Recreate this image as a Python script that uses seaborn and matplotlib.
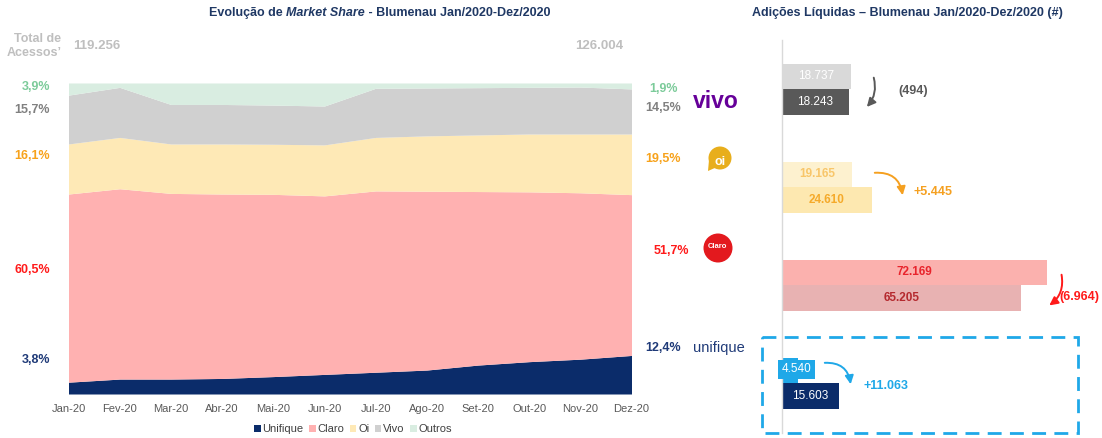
import numpy as np
import pandas as pd
import matplotlib
matplotlib.use("Agg")
from matplotlib import pyplot as plt
from matplotlib.patches import Rectangle, Circle, Polygon
import seaborn as sns

# Market share (%) por mes - Blumenau 2020
meses = ["Jan-20", "Fev-20", "Mar-20", "Abr-20", "Mai-20", "Jun-20",
         "Jul-20", "Ago-20", "Set-20", "Out-20", "Nov-20", "Dez-20"]
share_unifique = [3.8, 4.8, 4.8, 5.0, 5.6, 6.3, 7.0, 7.7, 9.3, 10.4, 11.2, 12.4]
share_claro = [60.5, 61.2, 59.7, 59.3, 58.6, 57.4, 58.3, 57.5, 55.8, 54.6, 53.5, 51.7]
share_oi = [16.1, 16.5, 15.9, 16.1, 16.1, 16.4, 17.2, 17.8, 18.2, 18.6, 18.9, 19.5]
share_vivo = [15.7, 16.1, 12.7, 12.7, 12.6, 12.5, 15.8, 15.4, 15.2, 15.0, 15.1, 14.5]
share_outros = [3.9, 1.4, 6.9, 6.9, 7.1, 7.4, 1.7, 1.6, 1.5, 1.4, 1.3, 1.9]
total_acessos = [119256, 126004]  # Jan/2020, Dez/2020

# Adicoes liquidas
operadoras = ["Vivo", "Oi", "Claro", "Unifique"]
acessos_jan = [18737, 19165, 72169, 4540]
acessos_dez = [18243, 24610, 65205, 15603]


def br(v):
    return f"{v:,}".replace(",", ".")


def pct(v):
    return f"{v:.1f}".replace(".", ",") + "%"


def delta_txt(d):
    return "(" + br(abs(d)) + ")" if d < 0 else "+" + br(d)


sns.set_style("white")
plt.rcParams["font.family"] = ["Liberation Sans", "DejaVu Sans"]

W, H = 1102, 438
fig = plt.figure(figsize=(W / 100, H / 100), dpi=100)


def box(x0, y0, x1, y1):
    return [x0 / W, 1 - y1 / H, (x1 - x0) / W, (y1 - y0) / H]


NAVY = "#1f3864"
GREY_T = "#bfbfbf"

# ---------------- left: stacked area ----------------
ax = fig.add_axes(box(68.5, 83, 631.5, 394))
x = np.arange(len(meses))
area_colors = ["#0b2c6a", "#ffb1b1", "#fee9b6", "#d0d0d0", "#d9ede1"]
ax.stackplot(x, share_unifique, share_claro, share_oi, share_vivo, share_outros,
             colors=area_colors, labels=["Unifique", "Claro", "Oi", "Vivo", "Outros"],
             linewidth=0)
ax.set_xlim(0, 11)
ax.set_ylim(0, 100)
ax.set_xticks(x, meses, fontsize=8, color="#595959")
ax.tick_params(axis="x", length=0, pad=7)
ax.set_yticks([])
sns.despine(ax=ax, left=True, bottom=True)
ax.legend(loc="center", bbox_to_anchor=(353 / W, 1 - 429 / H), bbox_transform=fig.transFigure,
          ncol=5, frameon=False, fontsize=8, handlelength=0.6, handleheight=0.6,
          handletextpad=0.15, columnspacing=0.5, labelcolor="#404040")

# ---------------- right: net additions ----------------
axr = fig.add_axes(box(781.7, 40, 1102, 438))
df = pd.DataFrame({"Operadora": operadoras * 2,
                   "Periodo": ["Jan/2020"] * 4 + ["Dez/2020"] * 4,
                   "Acessos": acessos_jan + acessos_dez})
sns.barplot(data=df, x="Acessos", y="Operadora", hue="Periodo", order=operadoras,
            hue_order=["Jan/2020", "Dez/2020"], orient="h", width=0.52, dodge=True,
            ax=axr, legend=False, linewidth=0, saturation=1, errorbar=None)
axr.set_xlim(0, (1102 - 781.7) / 3.675 * 1000)
axr.set_ylim(3.56, -0.5)

bar_colors = [("#d9d9d9", "#595959"), ("#fdf1cf", "#fde8b0"),
              ("#fbb1ae", "#e8b2b2"), ("#1fa8e8", "#0b2c6a")]
for p in axr.patches:
    yc = p.get_y() + p.get_height() / 2
    i = int(round(yc))
    j = 0 if yc < i else 1
    p.set_facecolor(bar_colors[i][j])

lab_colors = [("white", "white"), ("#f8c66a", "#f5aa2a"),
              ("#e8242c", "#b52a2f"), ("white", "white")]
lab_weight = [("normal", "normal"), ("bold", "bold"), ("bold", "bold"), ("normal", "normal")]
for i, (a, b) in enumerate(zip(acessos_jan, acessos_dez)):
    if operadoras[i] == "Unifique":
        axr.text(0, i - 0.14, br(a), ha="left", va="center", fontsize=8.5, color="white",
                 bbox=dict(boxstyle="square,pad=0.3", fc="#1fa8e8", ec="none"))
    else:
        axr.text(a / 2, i - 0.13, br(a), ha="center", va="center", fontsize=8.5,
                 color=lab_colors[i][0], fontweight=lab_weight[i][0])
    axr.text(b / 2, i + 0.13, br(b), ha="center", va="center", fontsize=8.5,
             color=lab_colors[i][1], fontweight=lab_weight[i][1])

axr.set_xticks([])
axr.set_yticks([])
axr.set_xlabel("")
axr.set_ylabel("")
for s in ["top", "right", "bottom"]:
    axr.spines[s].set_visible(False)
axr.spines["left"].set_color("#d9d9d9")
axr.spines["left"].set_linewidth(1)
axr.spines["left"].set_bounds(3.51, -0.5)

# ---------------- overlay for free texts ----------------
ov = fig.add_axes([0, 0, 1, 1])
ov.set_xlim(0, W)
ov.set_ylim(H, 0)
ov.axis("off")

renderer = fig.canvas.get_renderer()


def rich_title(parts, xc, y):
    texts = []
    for s, style in parts:
        texts.append(ov.text(0, y, s, fontstyle=style, fontweight="bold", fontsize=9,
                             color=NAVY, ha="left", va="center"))
    widths = [t.get_window_extent(renderer).width for t in texts]
    x0 = xc - sum(widths) / 2
    for t, w in zip(texts, widths):
        t.set_x(x0)
        x0 += w


rich_title([("Evolução de ", "normal"), ("Market Share", "italic"),
            (" - Blumenau Jan/2020-Dez/2020", "normal")], 380, 13)
rich_title([("Adições Líquidas – Blumenau Jan/2020-Dez/2020 (#)", "normal")], 907, 13)

ov.text(61, 39, "Total de", ha="right", va="center", fontsize=9,
        fontweight="bold", color=GREY_T)
ov.text(62, 53, "Acessos’", ha="right", va="center", fontsize=9,
        fontweight="bold", color=GREY_T)
ov.text(73, 46, br(total_acessos[0]), ha="left", va="center", fontsize=9.5,
        fontweight="bold", color=GREY_T)
ov.text(623, 46, br(total_acessos[-1]), ha="right", va="center", fontsize=9.5,
        fontweight="bold", color=GREY_T)

pct_colors = {"outros": "#7ccb9a", "vivo": "#808080", "oi": "#f7a21b",
              "claro": "#ff1a1a", "unifique": "#1f3a78"}
left_lab = [(share_outros[0], 87, "outros"), (share_vivo[0], 110, "vivo"),
            (share_oi[0], 156, "oi"), (share_claro[0], 270, "claro"),
            (share_unifique[0], 360, "unifique")]
for v, yy, k in left_lab:
    ov.text(50, yy, pct(v), ha="right", va="center", fontsize=9, fontweight="bold",
            color=pct_colors[k])

right_lab = [(share_outros[-1], 89, 678, "outros"), (share_vivo[-1], 108, 681, "vivo"),
             (share_oi[-1], 159, 681, "oi"), (share_claro[-1], 251, 689, "claro"),
             (share_unifique[-1], 348, 681, "unifique")]
for v, yy, xx, k in right_lab:
    ov.text(xx, yy, pct(v), ha="right", va="center", fontsize=9, fontweight="bold",
            color=pct_colors[k])

# logos
ov.text(716, 108, "vivo", ha="center", va="baseline", fontsize=16.5, fontweight="bold",
        color="#660099")
ov.add_patch(Circle((720, 158), 11.5, color="#e8ae1c", lw=0))
ov.add_patch(Polygon([(709, 160), (708, 171), (717, 167)], closed=True, color="#e8ae1c", lw=0))
ov.text(720, 162, "oi", ha="center", va="center", fontsize=9, fontweight="bold", color="white")
ov.add_patch(Circle((718, 248), 14.5, color="#e3191e", lw=0))
ov.text(717, 247, "Claro", ha="center", va="center", fontsize=5.5, fontweight="bold",
        color="white")
ov.text(719, 348, "unifique", ha="center", va="center", fontsize=10.5, color="#1f3a78")

# arrows and deltas
arrows = [((873, 75), (865, 109), -0.3, "#595959", (898, 91)),
          ((872, 173), (903, 198), -0.5, "#f5a020", (914, 192)),
          ((1061, 272), (1047, 307), -0.35, "#ff1a1a", (1059, 297)),
          ((822, 363), (851, 387), -0.5, "#1fa8e8", (864, 386))]
for (a, b), (s, e, rad, c, tp) in zip(zip(acessos_jan, acessos_dez), arrows):
    ov.annotate("", xy=e, xytext=s,
                arrowprops=dict(arrowstyle="-|>,head_length=0.5,head_width=0.25", color=c,
                                lw=1.4, connectionstyle=f"arc3,rad={rad}"))
    ov.text(tp[0], tp[1], delta_txt(b - a), ha="left", va="center", fontsize=9,
            fontweight="bold", color=c)

ov.add_patch(Rectangle((762, 337), 316, 96, fill=False, ec="#1fa8e8", lw=2,
                       linestyle=(0, (5, 3))))

fig.savefig("out.png", dpi=100)
